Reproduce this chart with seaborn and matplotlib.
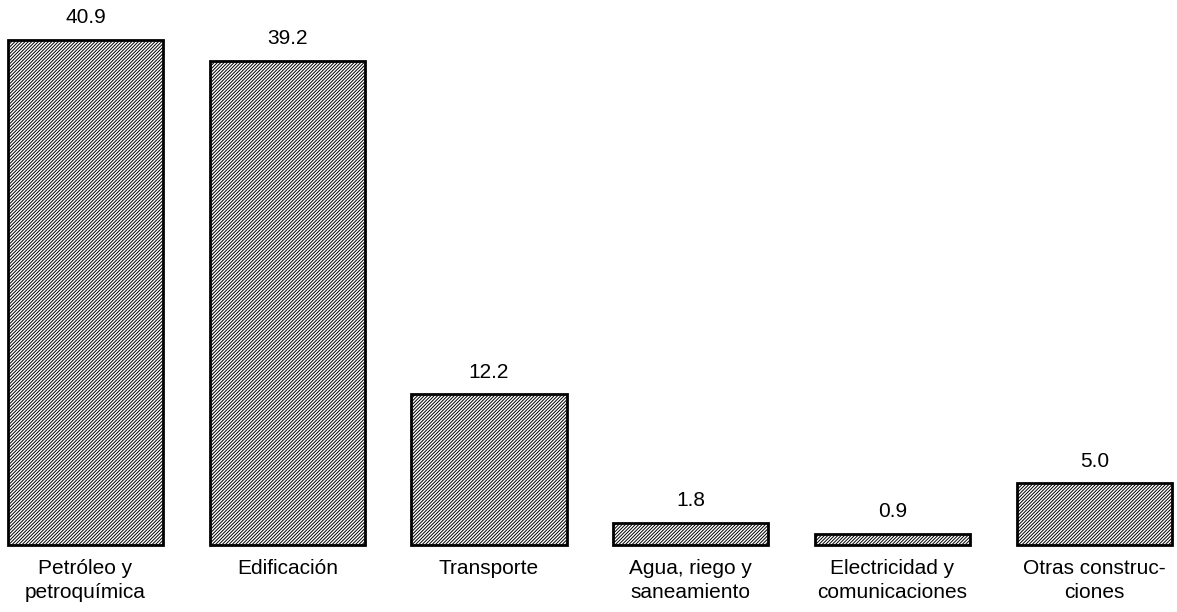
import matplotlib
matplotlib.use("Agg")
import matplotlib.pyplot as plt
import seaborn as sns
import pandas as pd

sectores = ["Petróleo y\npetroquímica", "Edificación", "Transporte",
            "Agua, riego y\nsaneamiento", "Electricidad y\ncomunicaciones",
            "Otras construc-\nciones"]
valores = [40.9, 39.2, 12.2, 1.8, 0.9, 5.0]

sns.set_style("white")
plt.rcParams['font.family'] = ['Liberation Sans', 'DejaVu Sans']
plt.rcParams['text.color'] = 'black'
plt.rcParams['xtick.color'] = 'black'
plt.rcParams['hatch.color'] = '#333333'
plt.rcParams['hatch.linewidth'] = 0.7

df = pd.DataFrame({'sector': sectores, 'valor': valores})

fig = plt.figure(figsize=(11.77, 6.12), dpi=100)
ax = fig.add_axes([0, 1 - 545 / 612, 1, 545 / 612])

sns.barplot(data=df, x='sector', y='valor', ax=ax, color='white',
            edgecolor='black', linewidth=2, width=0.77, saturation=1)
for p in ax.patches:
    p.set_hatch('//////////')
    p.set_facecolor('white')
    p.set_clip_on(False)

for i, v in enumerate(valores):
    ax.annotate(f"{v:.1f}", (i, v), xytext=(0, 12), textcoords='offset points',
                ha='center', va='baseline', fontsize=15)

ax.set_xlim(-0.424, 5.41)
ax.set_ylim(0, 44.1)
ax.set_xlabel('')
ax.set_ylabel('')
ax.set_yticks([])
ax.tick_params(axis='x', length=0, labelsize=15, pad=10)
for lbl in ax.get_xticklabels():
    lbl.set_linespacing(1.35)
sns.despine(ax=ax, left=True, bottom=True)

fig.savefig('out.png', dpi=100)
